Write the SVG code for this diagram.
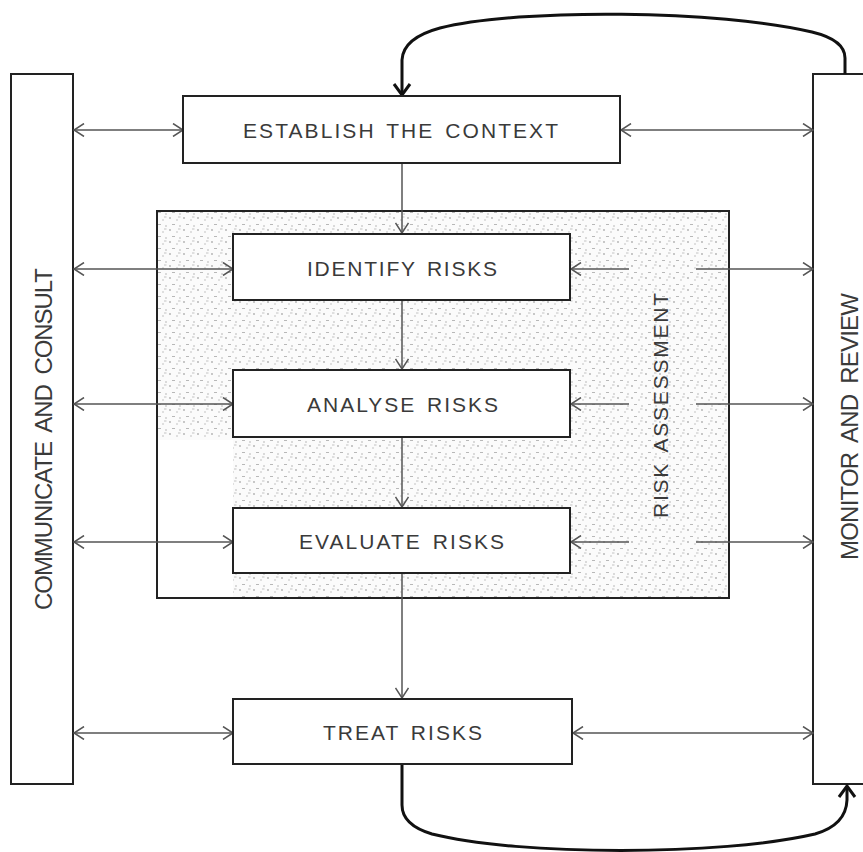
<svg xmlns="http://www.w3.org/2000/svg" width="863" height="852" viewBox="0 0 863 852">
<style>
.box{fill:#fff;stroke:#222;stroke-width:2}
.frame{fill:none;stroke:#222;stroke-width:2}
.lbl{font-family:"Liberation Sans",Arial,sans-serif;fill:#3a3a3a;font-size:21px;text-anchor:middle;word-spacing:3px}
.side{font-size:24px;word-spacing:5px}
.con{fill:none;stroke:#555;stroke-width:1.5}
.loop{fill:none;stroke:#111;stroke-width:3}
</style>
<defs>
<pattern id="stip" width="14" height="12" patternUnits="userSpaceOnUse">
<rect width="14" height="12" fill="#fbfbfb"/>
<circle cx="2" cy="2" r="0.9" fill="#b0b0b0"/>
<circle cx="9" cy="4" r="0.8" fill="#bcbcbc"/>
<rect x="4" y="8" width="3" height="1" fill="#b8b8b8"/>
<circle cx="12" cy="10" r="0.8" fill="#b0b0b0"/>
<rect x="10" y="0.5" width="2.5" height="1" fill="#c4c4c4"/>
</pattern>
<marker id="ah" viewBox="0 0 12 14" refX="11" refY="7" markerWidth="12" markerHeight="14" markerUnits="userSpaceOnUse" orient="auto-start-reverse">
<path d="M1,0.5 L11,7 L1,13.5" fill="none" stroke="#555" stroke-width="1.5"/>
</marker>
</defs>

<g id="risk-assessment">
<rect x="157" y="211" width="572" height="387" fill="url(#stip)"/>
<rect x="158" y="440" width="75" height="157" fill="#fff"/>
<rect class="frame" x="157" y="211" width="572" height="387"/>
<text class="lbl" transform="translate(668,405.5) rotate(-90)" textLength="225" lengthAdjust="spacing">RISK ASSESSMENT</text>
</g>

<g id="communicate">
<rect class="box" x="11" y="74" width="62" height="710"/>
<text class="lbl side" transform="translate(52,439) rotate(-90)" textLength="342" lengthAdjust="spacing">COMMUNICATE AND CONSULT</text>
</g>

<g id="monitor">
<rect class="box" x="813" y="74" width="60" height="710"/>
<text class="lbl side" transform="translate(858,426.5) rotate(-90)" textLength="267" lengthAdjust="spacing">MONITOR AND REVIEW</text>
</g>

<g id="connectors">
<line class="con" x1="402" y1="163" x2="402" y2="233" marker-end="url(#ah)"/>
<line class="con" x1="402" y1="300" x2="402" y2="369" marker-end="url(#ah)"/>
<line class="con" x1="402" y1="437" x2="402" y2="507" marker-end="url(#ah)"/>
<line class="con" x1="402" y1="573" x2="402" y2="698" marker-end="url(#ah)"/>

<line class="con" x1="74" y1="130" x2="183" y2="130" marker-start="url(#ah)" marker-end="url(#ah)"/>
<line class="con" x1="621" y1="130" x2="813" y2="130" marker-start="url(#ah)" marker-end="url(#ah)"/>

<line class="con" x1="74" y1="269" x2="233" y2="269" marker-start="url(#ah)" marker-end="url(#ah)"/>
<line class="con" x1="629" y1="269" x2="571" y2="269" marker-end="url(#ah)"/>
<line class="con" x1="696" y1="269" x2="813" y2="269" marker-end="url(#ah)"/>

<line class="con" x1="74" y1="404" x2="233" y2="404" marker-start="url(#ah)" marker-end="url(#ah)"/>
<line class="con" x1="629" y1="404" x2="571" y2="404" marker-end="url(#ah)"/>
<line class="con" x1="696" y1="404" x2="813" y2="404" marker-end="url(#ah)"/>

<line class="con" x1="74" y1="542" x2="233" y2="542" marker-start="url(#ah)" marker-end="url(#ah)"/>
<line class="con" x1="629" y1="542" x2="571" y2="542" marker-end="url(#ah)"/>
<line class="con" x1="696" y1="542" x2="813" y2="542" marker-end="url(#ah)"/>

<line class="con" x1="74" y1="733" x2="233" y2="733" marker-start="url(#ah)" marker-end="url(#ah)"/>
<line class="con" x1="573" y1="733" x2="813" y2="733" marker-start="url(#ah)" marker-end="url(#ah)"/>

<path class="loop" d="M845,74 L845,58 Q845,40 812,32 C720,10 520,8 440,28 Q403,38 402,60 L402,94"/>
<path class="loop" d="M394,84 L402,95 L410,84"/>
<path class="loop" d="M402,765 L402,805 Q402,825 432,834 C520,856 720,856 815,834 Q846,825 847,800 L847,787"/>
<path class="loop" d="M839,797 L847,786 L855,797"/>
</g>

<g id="establish">
<rect class="box" x="183" y="96" width="437" height="67"/>
<text class="lbl" x="400.5" y="138" textLength="315" lengthAdjust="spacing">ESTABLISH THE CONTEXT</text>
</g>
<g id="identify">
<rect class="box" x="233" y="234" width="337" height="66"/>
<text class="lbl" x="402" y="276" textLength="190" lengthAdjust="spacing">IDENTIFY RISKS</text>
</g>
<g id="analyse">
<rect class="box" x="233" y="370" width="337" height="67"/>
<text class="lbl" x="402.5" y="412" textLength="191" lengthAdjust="spacing">ANALYSE RISKS</text>
</g>
<g id="evaluate">
<rect class="box" x="233" y="508" width="337" height="65"/>
<text class="lbl" x="401.5" y="549" textLength="205" lengthAdjust="spacing">EVALUATE RISKS</text>
</g>
<g id="treat">
<rect class="box" x="233" y="699" width="339" height="65"/>
<text class="lbl" x="402.5" y="740" textLength="159" lengthAdjust="spacing">TREAT RISKS</text>
</g>
</svg>
